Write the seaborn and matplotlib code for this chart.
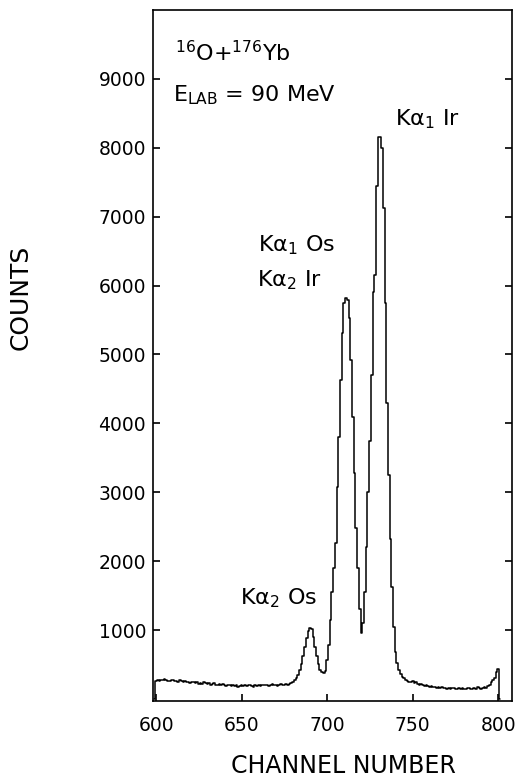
import numpy as np
import pandas as pd
import matplotlib
matplotlib.use("Agg")
import matplotlib.pyplot as plt
import seaborn as sns

# ---- data ----
channel = list(range(600, 801))
counts = [
    # 600-609
    260, 270, 265, 280, 275, 290, 270, 265, 255, 270,
    # 610-619
    280, 260, 265, 250, 270, 255, 245, 260, 240, 250,
    # 620-629
    235, 245, 250, 230, 240, 215, 235, 220, 240, 225,
    # 630-639
    210, 225, 200, 215, 225, 205, 195, 210, 200, 215,
    # 640-649
    200, 185, 195, 205, 190, 200, 185, 195, 180, 190,
    # 650-659
    200, 190, 200, 185, 195, 205, 190, 180, 195, 185,
    # 660-669
    200, 190, 205, 195, 205, 195, 185, 200, 210, 195,
    # 670-679
    205, 190, 200, 210, 195, 205, 215, 200, 210, 225,
    # 680-689
    245, 270, 300, 350, 420, 500, 620, 760, 880, 980,
    # 690-699
    1030, 1010, 900, 760, 620, 500, 420, 390, 370, 410,
    # 700-709
    560, 780, 1150, 1550, 1900, 2270, 3070, 3800, 4630, 5310,
    # 710-719
    5740, 5820, 5790, 5530, 4920, 4090, 3280, 2480, 1900, 1300,
    # 720-729
    960, 1100, 1550, 2200, 3000, 3750, 4700, 5900, 6150, 7450,
    # 730-739
    8160, 8150, 8000, 7130, 5750, 4300, 3250, 2320, 1620, 1050,
    # 740-749
    680, 520, 420, 360, 320, 300, 275, 260, 250, 240,
    # 750-759
    255, 230, 240, 215, 205, 220, 200, 190, 205, 185,
    # 760-769
    175, 190, 170, 180, 165, 175, 160, 170, 155, 165,
    # 770-779
    150, 160, 145, 155, 165, 150, 140, 155, 145, 160,
    # 780-789
    150, 140, 155, 165, 150, 140, 160, 150, 170, 155,
    # 790-799
    145, 165, 175, 160, 190, 200, 240, 280, 310, 390,
    # 800
    430,
]
edge_channels = [599, 801]      # spectrum starts/ends at zero counts
edge_counts = [0, 0]

x_ticks = [600, 650, 700, 750, 800]
y_ticks = [1000, 2000, 3000, 4000, 5000, 6000, 7000, 8000, 9000]

reaction_text = r"$^{16}$O+$^{176}$Yb"
energy_text = r"E$_{\mathrm{LAB}}$ = 90 MeV"
peak_labels = [r"K$\alpha_1$ Ir", r"K$\alpha_1$ Os", r"K$\alpha_2$ Ir", r"K$\alpha_2$ Os"]
peak_label_x = [739.6, 659.6, 659.0, 649.0]
peak_label_y = [8330, 6490, 5995, 1378]

# ---- style ----
sns.set_style("ticks")
plt.rcParams["font.family"] = ["DejaVu Sans"]
plt.rcParams["mathtext.fontset"] = "dejavusans"
plt.rcParams["mathtext.default"] = "regular"
plt.rcParams["text.color"] = "black"
plt.rcParams["axes.labelcolor"] = "black"
plt.rcParams["xtick.color"] = "black"
plt.rcParams["ytick.color"] = "black"

W, H = 519, 779
fig = plt.figure(figsize=(W / 100, H / 100), dpi=100)
ax = fig.add_axes([153 / W, 1 - 701 / H, 359 / W, 691 / H])

df = pd.DataFrame({
    "channel": [edge_channels[0]] + channel + [edge_channels[1]],
    "counts": [edge_counts[0]] + counts + [edge_counts[1]],
})
sns.lineplot(data=df, x="channel", y="counts", ax=ax, color="black",
             linewidth=1.1, drawstyle="steps-mid", estimator=None)

ax.set_xlim(598.2, 808)
ax.set_ylim(-30, 10000)
ax.set_xticks(x_ticks)
ax.set_yticks(y_ticks)
ax.tick_params(axis="both", direction="in", length=5, width=1.2,
               labelsize=13.5, colors="black")
ax.tick_params(axis="y", right=True, labelright=False, pad=5)
ax.tick_params(axis="x", top=False, pad=11)
for s in ax.spines.values():
    s.set_visible(True)
    s.set_linewidth(1.2)
    s.set_color("black")

ax.set_xlabel("CHANNEL NUMBER", fontsize=17, color="black")
ax.xaxis.set_label_coords((343 - 153) / 359, (701 - 754) / 691)
ax.set_ylabel("COUNTS", fontsize=18, color="black",
              family=["Liberation Sans Narrow", "DejaVu Sans"])
ax.yaxis.set_label_coords((33 - 153) / 359, (701 - 297) / 691)

ax.text(611, 9250, reaction_text, fontsize=16, ha="left", va="baseline")
ax.text(610, 8680, energy_text, fontsize=16, ha="left", va="baseline")
for lab, lx, ly in zip(peak_labels, peak_label_x, peak_label_y):
    ax.text(lx, ly, lab, fontsize=16, ha="left", va="baseline")

fig.savefig("out.png", dpi=100, facecolor="white")
